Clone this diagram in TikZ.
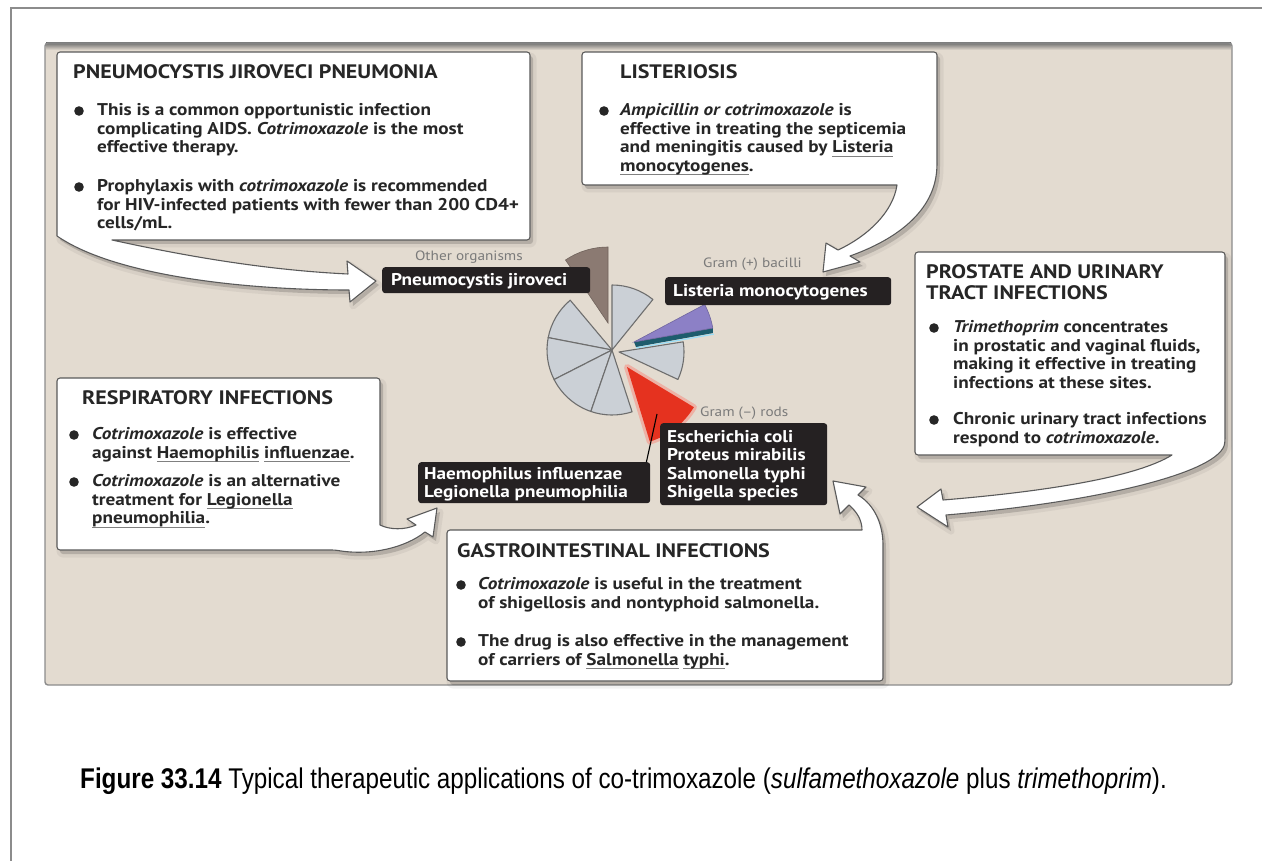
\documentclass[tikz,border=0pt]{standalone}
\usepackage{fontspec}
\setmainfont{PT Sans}[FakeStretch=1.13]
\newfontfamily\capfont{Liberation Sans}[FakeStretch=0.85]
\usetikzlibrary{calc}
\definecolor{beige}{HTML}{E3DBD0}
\definecolor{txtc}{HTML}{262626}
\definecolor{labc}{HTML}{252122}
\definecolor{pief}{HTML}{CBD0D6}
\definecolor{pied}{HTML}{6E6E6E}
\definecolor{brownw}{HTML}{8B7A72}
\definecolor{purplew}{HTML}{8C80C6}
\definecolor{tealw}{HTML}{1D5C6D}
\definecolor{redw}{HTML}{E5321F}
\definecolor{pinkw}{HTML}{F2A093}
\definecolor{framec}{HTML}{8C8C8C}
\definecolor{boxline}{HTML}{5A5A5A}
\definecolor{smallc}{HTML}{7A7A7A}
\newcommand\ulw[1]{\leavevmode\setbox0=\hbox{#1}\rlap{\textcolor{black!50}{\rule[-3.8pt]{\wd0}{1pt}}}\box0\relax}
\tikzset{
 body/.style={anchor=base west, inner sep=0pt, text=txtc, font=\fontsize{17}{19}\selectfont\bfseries},
 ttl/.style={anchor=base west, inner sep=0pt, text=txtc, font=\fontsize{19.5}{21}\selectfont\bfseries},
 lab/.style={anchor=base west, inner sep=0pt, text=white, font=\fontsize{17}{20}\selectfont\bfseries},
 labbox/.style={fill=labc, rounded corners=3pt, anchor=north west, inner sep=0pt},
 small/.style={inner sep=0pt, text=smallc, font=\fontsize{13.5}{16}\selectfont},
 callout/.style={fill=white, draw=boxline, line width=1.1pt, line join=round},
 shad/.style={fill=black, opacity=0.16},
 shadb/.style={draw=black, opacity=0.05, line width=7pt, line join=round},
 pie/.style={fill=pief, draw=pied, line width=1.1pt, line join=round},
 bul/.style={fill=txtc},
}
\def\pcppath{(57,236) [rounded corners=3pt] -- (57,52) -- (530,52) -- (530,240) [sharp corners] -- (112,240) .. controls (185,256) and (265,270) .. (348,274) -- (347,261) -- (376,281) -- (350,302) -- (349,290) .. controls (245,290) and (115,276) .. (57,236) -- cycle}
\def\lispath{(897,185) [rounded corners=3pt] -- (582,185) -- (582,52) -- (937,52) -- (937,165) [sharp corners] .. controls (935,212) and (895,240) .. (850,256) -- (860,262) -- (823,272) -- (826,243) -- (838,250) .. controls (868,236) and (893,212) .. (897,185) -- cycle}
\def\propath{(1172,455) [rounded corners=3pt] -- (915,455) -- (915,252) -- (1225,252) -- (1225,440) [sharp corners] .. controls (1222,472) and (1100,502) .. (946,515) -- (948,527) -- (917,507) -- (941,489) -- (943,500) .. controls (1040,492) and (1135,478) .. (1172,455) -- cycle}
\def\gipath{(862,530) [rounded corners=3pt] -- (447,530) -- (447,681) -- (883,681) -- (883,548) [sharp corners] .. controls (883,525) and (875,505) .. (858,495) -- (866,487) -- (833,481) -- (840,514) -- (849,505) .. controls (857,512) and (862,520) .. (862,530) -- cycle}
\def\respath{(380,525) [rounded corners=3pt] -- (380,378) -- (57,378) -- (57,550) -- (335,550) [sharp corners] .. controls (370,556) and (405,548) .. (425,532) -- (433,537) -- (437,508) -- (407,519) -- (416,525) .. controls (405,530) and (390,530) .. (380,525) -- cycle}
\begin{document}
\begin{tikzpicture}[x=1pt,y=-1pt]
\useasboundingbox (0,0) rectangle (1262,861);
\fill[white] (0,0) rectangle (1262,861);
\draw[framec, line width=2pt] (11,861) -- (11,8) -- (1262,8);
% panel
\fill[beige, rounded corners=3pt] (45,43) rectangle (1232,685);
\shade[top color=black!55, bottom color=beige] (46,43) rectangle (1231,50);
\draw[black!45, line width=1.4pt, rounded corners=3pt] (45,43) rectangle (1232,685);
% callout shadows
\foreach \p in {\pcppath,\lispath,\propath,\gipath,\respath}{
  \fill[shad, shift={(3,4)}] \p;
  \draw[shadb, shift={(3,4)}] \p;
}
% callouts
\draw[callout] \pcppath;
\draw[callout] \lispath;
\draw[callout] \propath;
\draw[callout] \gipath;
\draw[callout] \respath;
% pie chart
\filldraw[pie] (612,350) -- ++(-51:65) arc[start angle=-51, end angle=-90, radius=65] -- cycle;
\filldraw[pie] (612,350) -- ++(-130:65) arc[start angle=-130, end angle=-169, radius=65] -- cycle;
\filldraw[pie] (612,350) -- ++(-169:65) arc[start angle=-169, end angle=-207, radius=65] -- cycle;
\filldraw[pie] (612,350) -- ++(-207:65) arc[start angle=-207, end angle=-251, radius=65] -- cycle;
\filldraw[pie] (612,350) -- ++(-251:65) arc[start angle=-251, end angle=-288, radius=65] -- cycle;
\filldraw[pie] (619,352) -- ++(25:65) arc[start angle=25, end angle=-9, radius=65] -- cycle;
\filldraw[fill=brownw, draw=brownw!80!black, line width=0.6pt] (608,323) -- ++(-90:76) arc[start angle=-90, end angle=-124, radius=76] -- cycle;
\fill[tealw] (634,342) -- ++(-10:80) -- ++(0,5) -- (636,347) -- cycle;
\draw[cyan!40, line width=1.2pt] (636,348) -- ($(634,342)+(-10:80)+(1,6)$);
\filldraw[fill=purplew, draw=purplew!80!black, line width=0.6pt] (634,342) -- ++(-10:80) arc[start angle=-10, end angle=-28, radius=80] -- cycle;
\draw[pinkw, line width=6pt, line join=round, opacity=0.7] (627,367) -- ++(73:78) arc[start angle=73, end angle=31, radius=78] -- cycle;
\fill[redw] (627,367) -- ++(73:78) arc[start angle=73, end angle=31, radius=78] -- cycle;
% labels
\node[labbox, minimum width=208pt, minimum height=26pt] (pj) at (382,267) {};
\node[labbox, minimum width=226pt, minimum height=28pt] (lm) at (665,277) {};
\node[labbox, minimum width=232pt, minimum height=41pt] (hl) at (418,462) {};
\node[labbox, minimum width=167pt, minimum height=82pt] (ec) at (660,423) {};
\coordinate (rw) at (657,414);
\draw[black, line width=1.1pt] (rw) -- ([xshift=-4pt]hl.north east);
\node[lab] (pjt) at (391,286) {Pneumocystis jiroveci};
\node[lab] (lmt) at (673,297) {Listeria monocytogenes};
\node[lab] (hl1) at (424,479) {Haemophilus influenzae};
\node[lab] (hl2) at (424,497.5) {Legionella pneumophilia};
\node[lab] (ec1) at (667,442) {Escherichia coli};
\node[lab] (ec2) at (667,460.5) {Proteus mirabilis};
\node[lab] (ec3) at (667,479) {Salmonella typhi};
\node[lab] (ec4) at (667,497.5) {Shigella species};
\node[small, anchor=base east] (oo) at (523,261) {Other organisms};
\node[small, anchor=base west] (gb) at (703,268) {Gram (+) bacilli};
\node[small, anchor=base west] (gr) at (700,416) {Gram (–) rods};
% PCP text
\node[ttl] (t1) at (73,79) {PNEUMOCYSTIS JIROVECI PNEUMONIA};
\fill[bul] (79,111) circle (4.8);
\fill[bul] (79,187) circle (4.8);
\node[body] (t1a) at (97,115.5) {This is a common opportunistic infection};
\node[body] (t1b) at (97,134.2) {complicating AIDS. \textit{Cotrimoxazole} is the most};
\node[body] (t1c) at (97,152.9) {effective therapy.};
\node[body] (t1d) at (97,191.5) {Prophylaxis with \textit{cotrimoxazole} is recommended};
\node[body] (t1e) at (97,210.2) {for HIV-infected patients with fewer than 200 CD4+};
\node[body] (t1f) at (97,228.9) {cells/mL.};
% Listeriosis
\node[ttl] (t2) at (620,79) {LISTERIOSIS};
\fill[bul] (604,111) circle (4.8);
\node[body] (t2a) at (620,115.5) {\textit{Ampicillin or cotrimoxazole} is};
\node[body] (t2b) at (620,134.2) {effective in treating the septicemia};
\node[body] (t2c) at (620,152.9) {and meningitis caused by \ulw{Listeria}};
\node[body] (t2d) at (620,171.6) {\ulw{monocytogenes}.};
% Prostate
\node[ttl] (t3) at (926,279) {PROSTATE AND URINARY};
\node[ttl] (t3x) at (926,300) {TRACT INFECTIONS};
\fill[bul] (934,328) circle (4.8);
\fill[bul] (934,420) circle (4.8);
\node[body] (t3a) at (953,332.5) {\textit{Trimethoprim} concentrates};
\node[body] (t3b) at (953,351.2) {in prostatic and vaginal fluids,};
\node[body] (t3c) at (953,369.9) {making it effective in treating};
\node[body] (t3d) at (953,388.6) {infections at these sites.};
\node[body] (t3e) at (953,424.5) {Chronic urinary tract infections};
\node[body] (t3f) at (953,443.2) {respond to \textit{cotrimoxazole}.};
% Respiratory
\node[ttl] (t4) at (82,404) {RESPIRATORY INFECTIONS};
\fill[bul] (74,435) circle (4.8);
\fill[bul] (74,482) circle (4.8);
\node[body] (t4a) at (92,439.5) {\textit{Cotrimoxazole} is effective};
\node[body] (t4b) at (92,458.2) {against \ulw{Haemophilis} \ulw{influenzae}.};
\node[body] (t4c) at (92,486.5) {\textit{Cotrimoxazole} is an alternative};
\node[body] (t4d) at (92,505.2) {treatment for \ulw{Legionella}};
\node[body] (t4e) at (92,523.9) {\ulw{pneumophilia}.};
% GI
\node[ttl] (t5) at (457,557) {GASTROINTESTINAL INFECTIONS};
\fill[bul] (461,585) circle (4.8);
\fill[bul] (461,642) circle (4.8);
\node[body] (t5a) at (478,589.5) {\textit{Cotrimoxazole} is useful in the treatment};
\node[body] (t5b) at (478,608.2) {of shigellosis and nontyphoid salmonella.};
\node[body] (t5c) at (478,646.5) {The drug is also effective in the management};
\node[body] (t5d) at (478,665.2) {of carriers of \ulw{Salmonella} \ulw{typhi}.};
% caption
\node[anchor=base west, inner sep=0pt, font=\capfont\fontsize{28.5}{32}\selectfont] (cap) at (80,788) {\textbf{Figure 33.14} Typical therapeutic applications of co-trimoxazole (\textit{sulfamethoxazole} plus \textit{trimethoprim}).};
\end{tikzpicture}
\end{document}
